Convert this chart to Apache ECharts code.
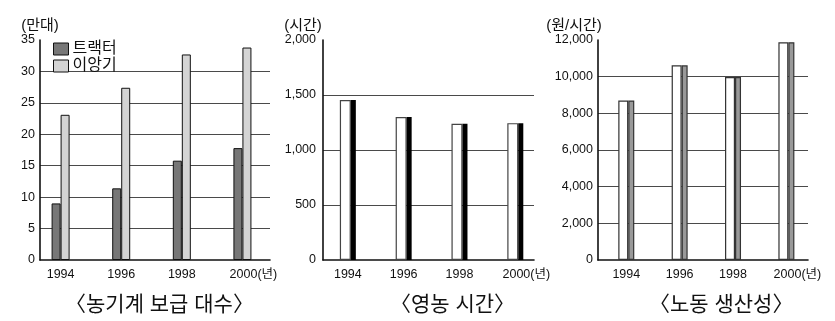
<!DOCTYPE html>
<html>
<head>
<meta charset="utf-8">
<script src="https://cdn.jsdelivr.net/npm/echarts@6/dist/echarts.min.js"></script>
<style>
  html, body { margin: 0; padding: 0; background: #fff; }
  #chart { width: 835px; height: 321px; }
</style>
</head>
<body>
<div id="chart"></div>
<script>
// ---- data ----
const years = [1994, 1996, 1998, 2000];
const tractor = [9.0, 11.4, 15.8, 17.8];            // 트랙터 (만대)
const transplanter = [23.1, 27.4, 32.7, 33.8];      // 이앙기 (만대)
const farmHours = [1455, 1300, 1238, 1244];         // 영농 시간 (시간)
const laborProductivity = [8700, 10620, 9980, 11880]; // 노동 생산성 (원/시간)
const seriesNames = ['트랙터', '이앙기'];
const chartTitles = ['〈농기계 보급 대수〉', '〈영농 시간〉', '〈노동 생산성〉'];
const unitNames = ['(만대)', '(시간)', '(원/시간)'];
const yearUnit = '(년)';

const FONT = '"Liberation Sans", Arial, "Noto Sans CJK KR", sans-serif';
const pairs = arr => years.map((y, i) => [y, arr[i]]);

const chart = echarts.init(document.getElementById('chart'), null, { renderer: 'canvas' });

function xAxisCfg(idx, min, max) {
  return {
    type: 'value', gridIndex: idx, min: min, max: max,
    axisLine: { show: true, onZero: false, lineStyle: { color: '#111', width: 1.6 } },
    axisTick: { show: false },
    splitLine: { show: false },
    axisLabel: {
      customValues: years,
      margin: 8,
      color: '#111', fontSize: 12.5, fontFamily: FONT,
      formatter: v => v === years[years.length - 1] ? '{p|}' + v + yearUnit : String(v),
      rich: { p: { width: 22 } }
    }
  };
}
function yAxisCfg(idx, max, interval, name, nameOpts, labelMargin) {
  return Object.assign({
    type: 'value', gridIndex: idx, min: 0, max: max, interval: interval,
    name: name, nameLocation: 'end', nameGap: 7,
    axisLine: { show: true, lineStyle: { color: '#111', width: 1.6 } },
    axisTick: { show: false },
    splitLine: { show: true, showMaxLine: false, showMinLine: false, lineStyle: { color: '#4a4a4a', width: 1.2 } },
    axisLabel: {
      margin: labelMargin, color: '#111', fontSize: 12.5, fontFamily: FONT,
      formatter: v => v.toLocaleString('en-US')
    }
  }, nameOpts);
}

const titleStyle = { fontSize: 21, fontWeight: 'normal', color: '#111', fontFamily: FONT };

const option = {
  animation: false,
  backgroundColor: '#fff',
  textStyle: { fontFamily: FONT },
  title: [
    { text: chartTitles[0], left: 60, top: 290, textStyle: titleStyle },
    { text: chartTitles[1], left: 385, top: 290, textStyle: titleStyle },
    { text: chartTitles[2], left: 644, top: 290, textStyle: titleStyle }
  ],
  legend: {
    data: seriesNames,
    orient: 'vertical', left: 53, top: 41, padding: 0,
    icon: 'rect',
    itemWidth: 15, itemHeight: 12, itemGap: 1, itemStyle: { borderColor: '#111', borderWidth: 1 },
    textStyle: { fontSize: 16, color: '#111', fontFamily: FONT, lineHeight: 14, padding: [0, 0, 0, -1] }
  },
  grid: [
    { left: 40, top: 40, width: 230, height: 220, outerBoundsMode: 'none' },
    { left: 323, top: 40, width: 211, height: 220, outerBoundsMode: 'none' },
    { left: 598, top: 40, width: 210, height: 220, outerBoundsMode: 'none' }
  ],
  xAxis: [
    xAxisCfg(0, 1993.32, 2000.91),
    xAxisCfg(1, 1993.11, 2000.67),
    xAxisCfg(2, 1992.94, 2000.81)
  ],
  yAxis: [
    yAxisCfg(0, 35, 5, unitNames[0], { nameTextStyle: { fontSize: 15, color: '#111', align: 'center', padding: [0, 0, 0, 0] } }, 5),
    yAxisCfg(1, 2000, 500, unitNames[1], { nameTextStyle: { fontSize: 15, color: '#111', align: 'center', padding: [0, 40, 0, 0] } }, 7),
    yAxisCfg(2, 12000, 2000, unitNames[2], { nameTextStyle: { fontSize: 15, color: '#111', align: 'center', padding: [0, 48, 0, 0] } }, 5)
  ],
  series: [
    { name: seriesNames[0], type: 'bar', xAxisIndex: 0, yAxisIndex: 0, data: pairs(tractor),
      barWidth: 9, barGap: '0%', itemStyle: { color: '#777', borderColor: '#111', borderWidth: 1 } },
    { name: seriesNames[1], type: 'bar', xAxisIndex: 0, yAxisIndex: 0, data: pairs(transplanter),
      barWidth: 9, barGap: '0%', itemStyle: { color: '#d4d4d4', borderColor: '#111', borderWidth: 1 } },

    { name: '영농 시간', type: 'bar', xAxisIndex: 1, yAxisIndex: 1, data: pairs(farmHours),
      barWidth: 11, barGap: '0%', itemStyle: { color: '#fff', borderColor: '#444', borderWidth: 1.2 } },
    { name: '영농 시간 음영', type: 'bar', xAxisIndex: 1, yAxisIndex: 1, data: pairs(farmHours),
      barWidth: 5, barGap: '0%', itemStyle: { color: '#000' } },

    { name: '노동 생산성', type: 'bar', xAxisIndex: 2, yAxisIndex: 2, data: pairs(laborProductivity),
      barWidth: 10, barGap: '0%', itemStyle: { color: '#fff', borderColor: '#333', borderWidth: 1.2 } },
    { name: '노동 생산성 음영', type: 'bar', xAxisIndex: 2, yAxisIndex: 2, data: pairs(laborProductivity),
      barWidth: 6, barGap: '0%', itemStyle: { color: '#999', borderColor: '#333', borderWidth: 1.2 } }
  ]
};
chart.setOption(option);
</script>
</body>
</html>
